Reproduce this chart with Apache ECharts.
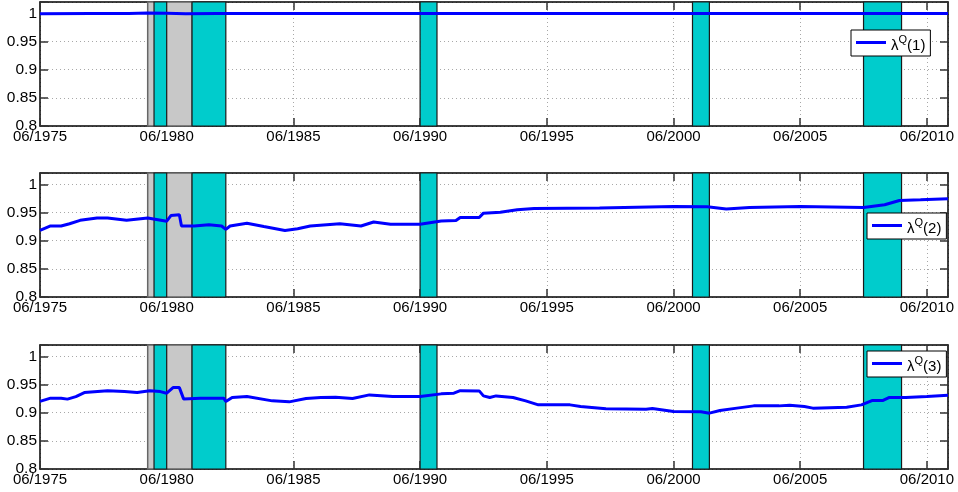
<!DOCTYPE html>
<html><head><meta charset="utf-8">
<script src="https://cdn.jsdelivr.net/npm/echarts@6/dist/echarts.min.js"></script>
<style>html,body{margin:0;padding:0;background:#fff}#c{width:958px;height:492px}</style>
</head><body><div id="c"></div>
<script>
// ---------- data ----------
const xStart = '1975-06';
const xEnd = '2011-04';
const yMin = 0.8, yMax = 1.02, yStep = 0.05;
const seriesNames = ['lam1', 'lam2', 'lam3'];
const legendIndex = ['1', '2', '3'];

const lam1Dates  = ['1975-06','1977-06','1978-12','1979-09','1980-06','1981-03','1982-06','1990-06','2000-06','2011-04'];
const lam1Values = [0.9993, 0.9995, 0.9998, 1.0003, 1.0002, 0.9993, 0.9996, 0.9997, 0.9997, 0.9997];

const lam2Dates  = ['1975-06','1975-11','1976-04','1976-08','1977-01','1977-09','1978-02','1978-11','1979-09','1980-06',
                    '1980-08','1980-12','1981-01','1981-07','1982-02','1982-08','1982-10','1982-12','1983-08','1984-04',
                    '1985-02','1985-08','1986-02','1987-04','1988-02','1988-08','1989-04','1990-06','1991-04','1991-11',
                    '1992-01','1992-10','1992-12','1993-08','1994-04','1994-12','1997-07','2000-06','2001-10','2002-07',
                    '2003-06','2005-06','2007-12','2008-10','2009-05','2010-03','2011-04'];
const lam2Values = [0.918, 0.926, 0.926, 0.930, 0.936, 0.940, 0.940, 0.936, 0.940, 0.9345,
                    0.9445, 0.946, 0.926, 0.926, 0.928, 0.926, 0.920, 0.926, 0.931, 0.925,
                    0.918, 0.921, 0.926, 0.930, 0.926, 0.933, 0.929, 0.929, 0.935, 0.9356,
                    0.941, 0.941, 0.9488, 0.9505, 0.9547, 0.957, 0.9577, 0.9605, 0.960, 0.956,
                    0.9588, 0.9605, 0.9588, 0.9636, 0.9713, 0.9725, 0.9743];

const lam3Dates  = ['1975-06','1975-11','1976-04','1976-07','1976-11','1977-03','1978-02','1978-10','1979-04','1979-10',
                    '1980-03','1980-06','1980-09','1980-12','1981-02','1981-10','1982-09','1982-10','1983-01','1983-08',
                    '1984-08','1985-04','1985-12','1986-07','1987-02','1987-10','1988-06','1989-05','1990-06','1991-04',
                    '1991-10','1992-01','1992-10','1992-12','1993-03','1993-06','1994-02','1994-08','1995-02','1995-08',
                    '1996-05','1996-10','1997-10','1999-05','1999-08','2000-06','2001-07','2001-11','2002-04','2002-12',
                    '2003-08','2004-08','2005-01','2005-08','2005-12','2007-04','2007-11','2008-04','2008-09','2008-12',
                    '2009-08','2010-06','2011-04'];
const lam3Values = [0.920, 0.9257, 0.9257, 0.924, 0.9285, 0.9356, 0.939, 0.9373, 0.9356, 0.939,
                    0.9373, 0.9345, 0.9444, 0.9444, 0.9244, 0.9257, 0.9257, 0.9196, 0.9268, 0.9285,
                    0.9209, 0.9191, 0.925, 0.9268, 0.9274, 0.925, 0.9315, 0.9285, 0.9285, 0.9333,
                    0.9345, 0.939, 0.9386, 0.9297, 0.9268, 0.9297, 0.9268, 0.9209, 0.9138, 0.9138,
                    0.9138, 0.9108, 0.9067, 0.9062, 0.9073, 0.902, 0.9014, 0.8991, 0.9037, 0.908,
                    0.912, 0.912, 0.9133, 0.9108, 0.908, 0.9097, 0.9138, 0.9214, 0.9214, 0.9268,
                    0.9268, 0.9285, 0.9309];

const grayPeriods = [['1979-09', '1981-06']];
const cyanPeriods = [['1979-12', '1980-06'], ['1981-06', '1982-10'], ['1990-06', '1991-02'],
                     ['2001-03', '2001-11'], ['2007-12', '2009-06']];

// ---------- helpers ----------
function toM(s) { const p = s.split('-').map(Number); return (p[0] - 1975) * 12 + (p[1] - 6); }
const xMin = toM(xStart), xMax = toM(xEnd);
const FONT = 'Liberation Sans';

const panels = [[lam1Dates, lam1Values], [lam2Dates, lam2Values], [lam3Dates, lam3Values]];
const gridTops = [2, 173, 345];
const legendPos = [[851, 30], [867, 213], [867, 351]];

const grids = [], xAxes = [], yAxes = [], series = [], legends = [];
const areaData = [];
grayPeriods.forEach(p => areaData.push([{ xAxis: toM(p[0]), itemStyle: { color: '#C8C8C8', borderColor: '#666', borderWidth: 1.5 } }, { xAxis: toM(p[1]) }]));
cyanPeriods.forEach(p => areaData.push([{ xAxis: toM(p[0]), itemStyle: { color: '#00CCCC', borderColor: '#1a1a1a', borderWidth: 1.2 } }, { xAxis: toM(p[1]) }]));

panels.forEach((pd, i) => {
  grids.push({ left: 40, right: 10, top: gridTops[i], height: 124 });
  xAxes.push({
    type: 'value', gridIndex: i, position: 'bottom', min: xMin, max: xMax, interval: 60,
    axisLine: { show: true, onZero: false, lineStyle: { color: '#000', width: 1.5 } },
    axisTick: { show: true, inside: true, length: 8, lineStyle: { color: '#333', width: 1.5 } },
    axisLabel: { margin: 3, fontFamily: FONT, fontSize: 15, color: '#000',
      formatter: v => (v % 60 === 0 ? '06/' + (1975 + v / 12) : '') },
    splitLine: { show: true, lineStyle: { color: '#a8a8a8', width: 1, type: [1, 3] } }
  });
  xAxes.push({
    type: 'value', gridIndex: i, position: 'top', min: xMin, max: xMax, interval: 60,
    axisLine: { show: true, onZero: false, lineStyle: { color: '#000', width: 1.5 } },
    axisTick: { show: true, inside: true, length: 8, lineStyle: { color: '#333', width: 1.5 } },
    axisLabel: { show: false }, splitLine: { show: false }
  });
  yAxes.push({
    type: 'value', gridIndex: i, position: 'left', min: yMin, max: yMax, interval: yStep,
    axisLine: { show: true, onZero: false, lineStyle: { color: '#000', width: 1.5 } },
    axisTick: { show: true, inside: true, length: 8, lineStyle: { color: '#333', width: 1.5 } },
    axisLabel: { margin: 3, fontFamily: FONT, fontSize: 15.5, color: '#000',
      formatter: v => (Math.abs(v / yStep - Math.round(v / yStep)) < 1e-6 ? String(+v.toFixed(2)) : '') },
    splitLine: { show: true, lineStyle: { color: '#a8a8a8', width: 1, type: [1, 3] } }
  });
  yAxes.push({
    type: 'value', gridIndex: i, position: 'right', min: yMin, max: yMax, interval: yStep,
    axisLine: { show: true, onZero: false, lineStyle: { color: '#000', width: 1.5 } },
    axisTick: { show: true, inside: true, length: 8, lineStyle: { color: '#333', width: 1.5 } },
    axisLabel: { show: false }, splitLine: { show: false }
  });
  series.push({
    name: seriesNames[i], type: 'line', xAxisIndex: 2 * i, yAxisIndex: 2 * i,
    data: pd[0].map((d, k) => [toM(d), pd[1][k]]),
    showSymbol: false, symbol: 'none', smooth: false,
    lineStyle: { color: '#0000FF', width: 3 }, itemStyle: { color: '#0000FF' },
    markArea: { silent: true, data: areaData }
  });
  legends.push({
    data: [seriesNames[i]], left: legendPos[i][0], top: legendPos[i][1], orient: 'horizontal',
    selectedMode: false, icon: 'rect', itemWidth: 30, itemHeight: 3, itemGap: 4,
    backgroundColor: '#fff', borderColor: '#000', borderWidth: 1, borderRadius: 0, padding: [4, 5, 3, 5],
    formatter: () => '{a|λ}{s|Q}{a|(' + legendIndex[i] + ')}',
    textStyle: { fontFamily: FONT, fontSize: 15, color: '#000',
      rich: { a: { fontFamily: FONT, fontSize: 15, color: '#000', padding: [6, 0, 0, 0] },
              s: { fontFamily: FONT, fontSize: 11, color: '#000', padding: [0, 0, 6, 0] } } }
  });
});

const chart = echarts.init(document.getElementById('c'), null, { renderer: 'canvas' });
chart.setOption({
  animation: false, backgroundColor: '#fff',
  grid: grids, xAxis: xAxes, yAxis: yAxes, series: series, legend: legends
});
</script></body></html>
